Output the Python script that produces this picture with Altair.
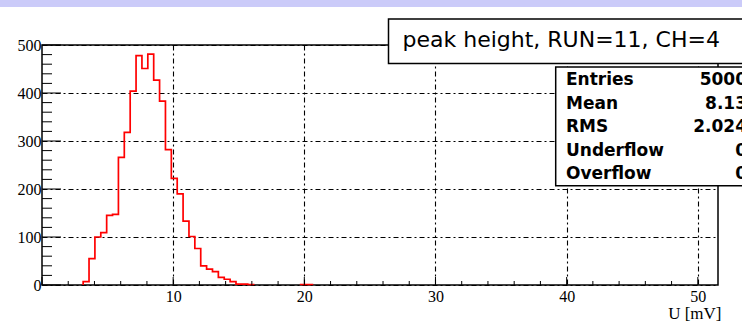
import altair as alt
import pandas as pd

# ---------------- data ----------------
BIN_WIDTH = 0.4482          # mV per bin (115 bins over 0..51.54 mV)
X_MAX = 51.54
FIRST_BIN = 7
# counts for bins 7 .. 45
counts = [7, 55, 100, 109, 145, 147, 266, 318, 404, 478, 451, 481, 427, 383,
          282, 222, 190, 133, 101, 76, 40, 33, 28, 16, 12, 7, 2, 2, 1,
          0, 0, 0, 0, 0, 0, 0, 0,
          1, 1]

x_major = [0, 10, 20, 30, 40, 50]
x_minor = [v for v in range(2, 52, 2) if v % 10 != 0]
y_major = [0, 100, 200, 300, 400, 500]
y_minor = [v for v in range(20, 500, 20) if v % 100 != 0]
x_labels = [10, 20, 30, 40, 50]

title_text = "peak height, RUN=11, CH=4"
stat_labels = ["Entries", "Mean", "RMS", "Underflow", "Overflow"]
stat_values = ["5000", "8.13", "2.024", "0", "0"]

# -------------- build step outline --------------
rows = []
seg = 0
order = 0
in_run = False
for k, c in enumerate(counts):
    i = FIRST_BIN + k
    if c > 0:
        if not in_run:
            seg += 1
            rows.append(dict(x=i * BIN_WIDTH, y=0, seg=seg, o=order)); order += 1
            in_run = True
        rows.append(dict(x=i * BIN_WIDTH, y=c, seg=seg, o=order)); order += 1
    else:
        if in_run:
            rows.append(dict(x=i * BIN_WIDTH, y=0, seg=seg, o=order)); order += 1
            in_run = False
if in_run:
    rows.append(dict(x=(FIRST_BIN + len(counts)) * BIN_WIDTH, y=0, seg=seg, o=order))
hist = pd.DataFrame(rows)

W, H = 676, 240
xs = alt.Scale(domain=[0, X_MAX], nice=False, zero=False)
ys = alt.Scale(domain=[0, 500], nice=False)
DASH = [5, 3, 2, 3]

xaxis = alt.Axis(values=x_labels, grid=True, gridColor="black", gridDash=DASH,
                 gridWidth=1.1, domain=False, ticks=False, tickSize=0,
                 labelFont="Liberation Serif", labelFontSize=16, labelColor="black",
                 labelPadding=3, labelFlush=False, labelOverlap=False,
                 title="U  [mV]", titleFont="Liberation Serif", titleFontSize=17,
                 titleFontWeight="normal", titleColor="black", titleAnchor="end",
                 titleAlign="right", titleBaseline="alphabetic", titleX=679, titleY=33)
yaxis = alt.Axis(values=y_major, grid=True, gridColor="black", gridDash=DASH,
                 gridWidth=1.1, domain=False, ticks=False, tickSize=0,
                 labelFont="Liberation Serif", labelFontSize=16, labelColor="black",
                 labelPadding=1, labelFlush=False, labelOverlap=False,
                 labelBaseline="middle", title=None)

line = alt.Chart(hist).mark_line(interpolate="step-after", color="#ff0000",
                                 strokeWidth=1.7).encode(
    x=alt.X("x:Q", scale=xs, axis=xaxis),
    y=alt.Y("y:Q", scale=ys, axis=yaxis),
    detail="seg:N",
    order="o:Q",
)

def xticks(vals, length):
    return alt.Chart(pd.DataFrame({"v": vals})).mark_rule(color="black", strokeWidth=1).encode(
        x=alt.X("v:Q", scale=xs), y=alt.value(H), y2=alt.value(H - length))

def yticks(vals, length):
    return alt.Chart(pd.DataFrame({"v": vals})).mark_rule(color="black", strokeWidth=1).encode(
        y=alt.Y("v:Q", scale=ys), x=alt.value(0), x2=alt.value(length))

one = pd.DataFrame({"a": [0]})

band = alt.Chart(one).mark_rect(color="#cbcbf9").encode(
    x=alt.value(-42), x2=alt.value(710), y=alt.value(-45), y2=alt.value(-38))

title_box = alt.Chart(one).mark_rect(fill="white", stroke="black", strokeWidth=1.5).encode(
    x=alt.value(346.5), x2=alt.value(760), y=alt.value(-26), y2=alt.value(18.5))
title = alt.Chart(one).mark_text(font="DejaVu Sans", fontSize=22, align="left",
                                 baseline="alphabetic", color="black").encode(
    x=alt.value(360.5), y=alt.value(2), text=alt.value(title_text))

stat_box = alt.Chart(one).mark_rect(fill="white", stroke="black", strokeWidth=1.5).encode(
    x=alt.value(513.7), x2=alt.value(760), y=alt.value(22), y2=alt.value(140.7))
stat_l = alt.Chart(one).mark_text(font="DejaVu Sans", fontSize=17, fontWeight="bold",
                                  align="left", baseline="middle", lineHeight=23.5,
                                  color="black").encode(
    x=alt.value(524), y=alt.value(35), text=alt.value(stat_labels))
stat_v = alt.Chart(one).mark_text(font="DejaVu Sans", fontSize=17, fontWeight="bold",
                                  align="right", baseline="middle", lineHeight=23.5,
                                  color="black").encode(
    x=alt.value(705), y=alt.value(35), text=alt.value(stat_values))

chart = alt.layer(
    band, line,
    xticks(x_major, 8), xticks(x_minor, 4),
    yticks(y_major, 19), yticks(y_minor, 10),
    title_box, title, stat_box, stat_l, stat_v,
).properties(
    width=W, height=H,
    autosize=alt.AutoSizeParams(type="none"),
    padding={"left": 42, "top": 45, "right": 24, "bottom": 37},
    background="white",
).configure_view(stroke="black", strokeWidth=1.5)

chart.save("out.html", embed_options={"renderer": "svg", "actions": False})
